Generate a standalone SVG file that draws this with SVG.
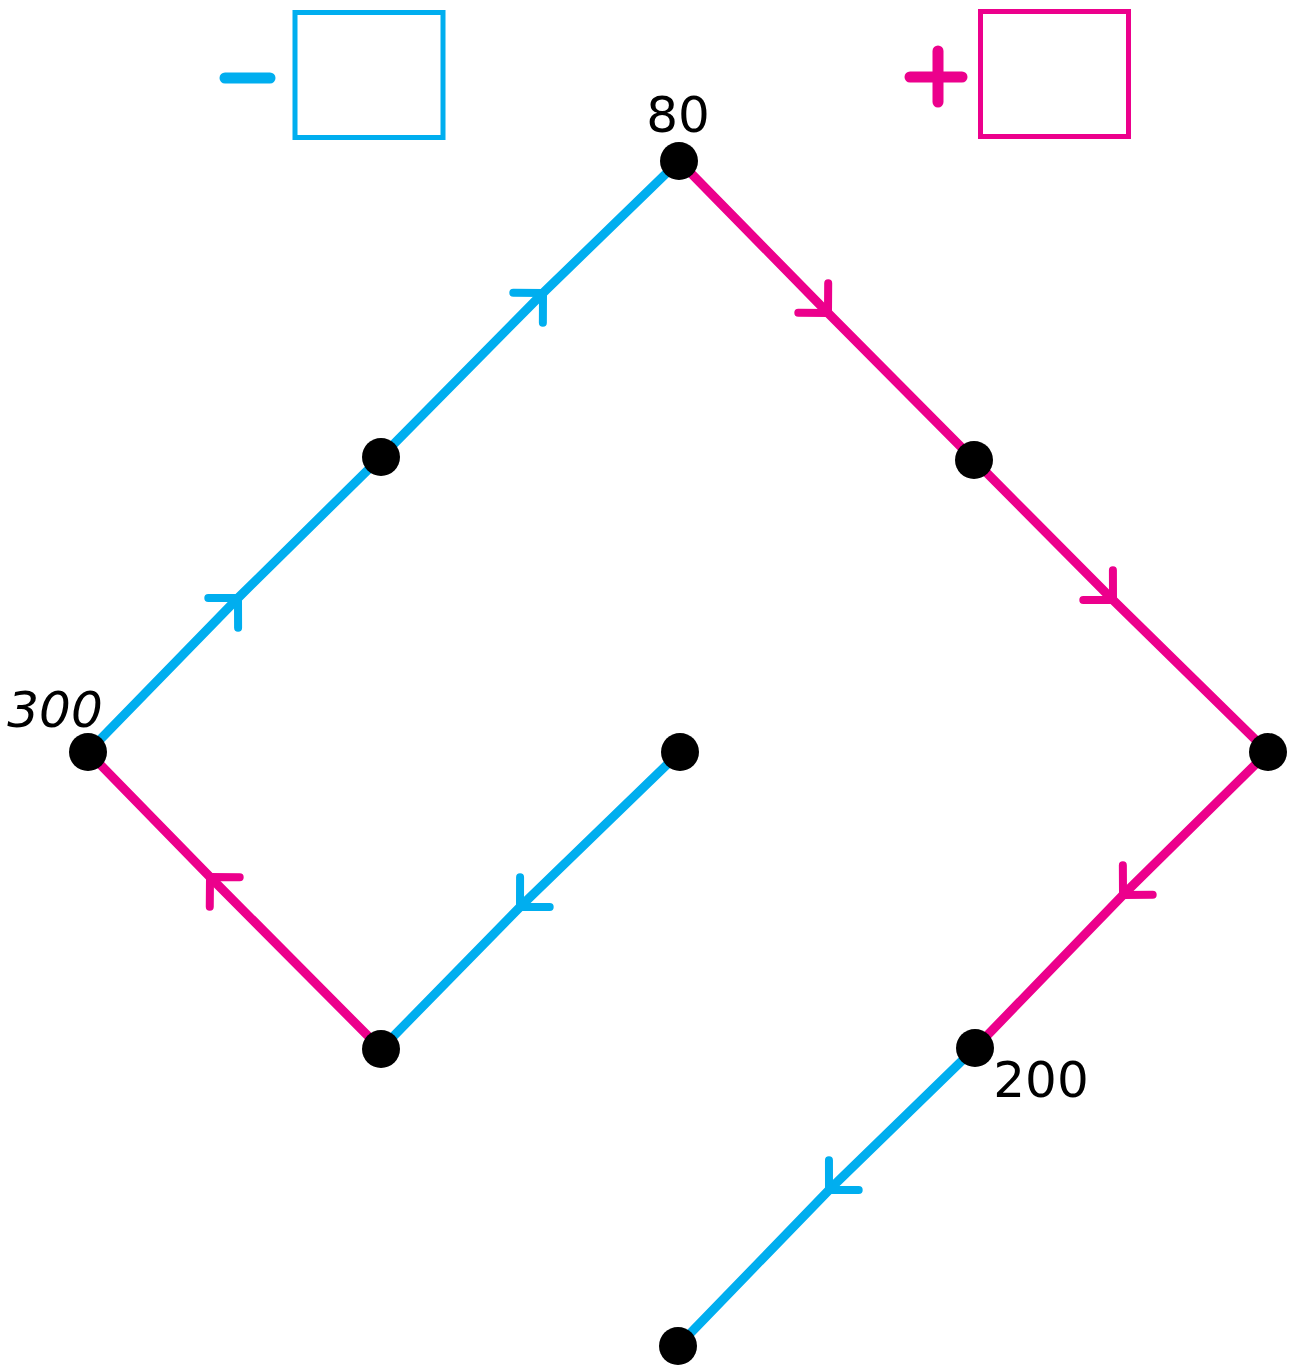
<svg xmlns="http://www.w3.org/2000/svg" width="1296" height="1366" viewBox="0 0 1296 1366">
<style>
.blue{stroke:#00AEEF;}
.pink{stroke:#EC008C;}
.edge{fill:none;stroke-width:9;stroke-linecap:round;}
.node{fill:#000;}
.lbl{font-family:"DejaVu Sans",sans-serif;font-size:50px;fill:#000;}
.box{fill:none;stroke-width:5;}
.sign{stroke-width:11;stroke-linecap:round;fill:none;}
</style>
<defs>
<marker id="arrB" markerUnits="userSpaceOnUse" orient="auto" refX="0" refY="0" markerWidth="60" markerHeight="60" overflow="visible">
<path d="M -21,-21 L 0,0 L -21,21" fill="none" stroke="#00AEEF" stroke-width="8" stroke-linecap="round" stroke-linejoin="round"/>
</marker>
<marker id="arrP" markerUnits="userSpaceOnUse" orient="auto" refX="0" refY="0" markerWidth="60" markerHeight="60" overflow="visible">
<path d="M -21,-21 L 0,0 L -21,21" fill="none" stroke="#EC008C" stroke-width="8" stroke-linecap="round" stroke-linejoin="round"/>
</marker>
</defs>
<g id="legend">
<line class="sign blue" x1="225" y1="78" x2="270" y2="78"/>
<rect class="box blue" x="295" y="12.5" width="148" height="125"/>
<line class="sign pink" x1="910" y1="77" x2="962" y2="77"/>
<line class="sign pink" x1="938" y1="51" x2="938" y2="102"/>
<rect class="box pink" x="980.5" y="11.5" width="148" height="125"/>
</g>
<g id="connectors">
<polyline class="edge blue" points="88,752 238,598 381,457" marker-mid="url(#arrB)"/>
<polyline class="edge blue" points="381,457 543,293 679,161" marker-mid="url(#arrB)"/>
<polyline class="edge pink" points="679,161 828,313 974,460" marker-mid="url(#arrP)"/>
<polyline class="edge pink" points="974,460 1113,600 1268,752" marker-mid="url(#arrP)"/>
<polyline class="edge pink" points="1268,752 1123,895 975,1048" marker-mid="url(#arrP)"/>
<polyline class="edge blue" points="975,1048 829,1190 678,1346" marker-mid="url(#arrB)"/>
<polyline class="edge blue" points="680,752 520,907 381,1049" marker-mid="url(#arrB)"/>
<polyline class="edge pink" points="381,1049 210,877 88,752" marker-mid="url(#arrP)"/>
</g>
<g id="n80"><circle class="node" cx="679" cy="161" r="19"/><text class="lbl" x="678" y="132" text-anchor="middle">80</text></g>
<g id="nB"><circle class="node" cx="381" cy="457" r="19"/></g>
<g id="nC"><circle class="node" cx="974" cy="460" r="19"/></g>
<g id="n300"><circle class="node" cx="88" cy="752" r="19"/><text class="lbl" x="55" y="727" text-anchor="middle" font-style="italic">300</text></g>
<g id="nE"><circle class="node" cx="680" cy="752" r="19"/></g>
<g id="nF"><circle class="node" cx="1268" cy="752" r="19"/></g>
<g id="nG"><circle class="node" cx="381" cy="1049" r="19"/></g>
<g id="n200"><circle class="node" cx="975" cy="1048" r="19"/><text class="lbl" x="1041" y="1097" text-anchor="middle">200</text></g>
<g id="nI"><circle class="node" cx="678" cy="1346" r="19"/></g>
</svg>
